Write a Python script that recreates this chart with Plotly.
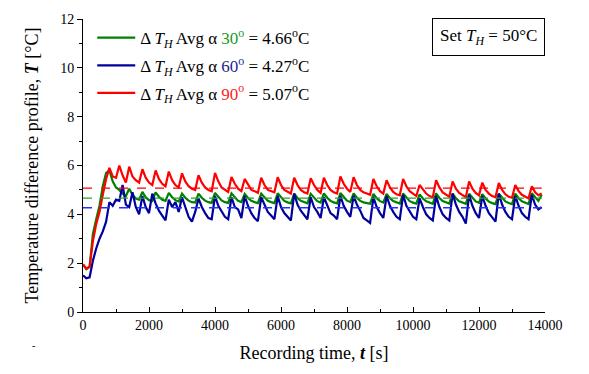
import numpy as np
import plotly.graph_objects as go

# ---- data (100 s step) ----
time_step = 100
red_90 = [
    1.95, 1.78, 1.85, 2.90, 3.60, 4.10, 4.80, 5.45, 5.90, 5.55,
    5.50, 6.00, 5.60, 5.30, 5.95, 5.55, 5.40, 5.30, 5.85, 5.50,
    5.30, 5.20, 5.80, 5.45, 5.25, 5.15, 5.75, 5.40, 5.20, 5.10,
    5.68, 5.35, 5.15, 5.05, 5.00, 5.60, 5.30, 5.10, 5.00, 4.95,
    5.70, 5.35, 5.10, 5.00, 4.92, 5.53, 5.25, 5.05, 4.95, 5.45,
    5.20, 5.00, 4.95, 4.88, 5.50, 5.20, 5.00, 4.95, 4.90, 5.52,
    5.20, 5.00, 4.92, 4.85, 5.50, 5.20, 5.00, 4.90, 4.85, 5.48,
    5.20, 5.00, 4.88, 5.50, 5.20, 5.00, 4.90, 4.85, 5.55, 5.25,
    5.05, 4.92, 5.52, 5.20, 5.00, 4.90, 4.85, 4.80, 5.45, 5.15,
    4.95, 4.85, 5.40, 5.10, 4.92, 4.82, 4.78, 5.45, 5.15, 4.95,
    4.85, 4.75, 5.20, 5.00, 4.85, 4.75, 4.70, 5.40, 5.10, 4.90,
    4.80, 4.72, 5.35, 5.05, 4.88, 4.78, 4.70, 5.35, 5.05, 4.88,
    4.78, 5.30, 5.00, 4.85, 4.75, 4.70, 5.28, 5.00, 4.82, 4.72,
    4.68, 5.20, 4.95, 4.80, 4.72, 4.65, 5.15, 4.90, 4.78, 4.85,
]
green_30 = [
    1.95, 1.75, 1.85, 3.20, 3.80, 4.35, 5.15, 5.70, 5.80, 5.35,
    5.10, 5.00, 4.85, 4.75, 5.05, 4.80, 4.65, 4.60, 4.92, 4.70,
    4.58, 4.55, 4.90, 4.72, 4.60, 4.55, 4.88, 4.70, 4.58, 4.52,
    4.85, 4.68, 4.56, 4.50, 4.48, 4.85, 4.68, 4.56, 4.50, 4.47,
    4.88, 4.70, 4.57, 4.50, 4.47, 4.86, 4.68, 4.55, 4.50, 4.84,
    4.67, 4.55, 4.50, 4.46, 4.85, 4.68, 4.55, 4.50, 4.46, 4.86,
    4.68, 4.55, 4.49, 4.45, 4.85, 4.67, 4.55, 4.49, 4.45, 4.84,
    4.67, 4.54, 4.48, 4.86, 4.68, 4.55, 4.49, 4.45, 4.87, 4.69,
    4.56, 4.50, 4.86, 4.68, 4.55, 4.49, 4.45, 4.43, 4.84, 4.66,
    4.54, 4.48, 4.84, 4.66, 4.54, 4.48, 4.44, 4.85, 4.67, 4.54,
    4.48, 4.44, 4.82, 4.65, 4.53, 4.47, 4.43, 4.86, 4.67, 4.54,
    4.48, 4.44, 4.85, 4.66, 4.53, 4.47, 4.43, 4.84, 4.66, 4.53,
    4.47, 4.83, 4.65, 4.52, 4.46, 4.42, 4.84, 4.66, 4.53, 4.46,
    4.42, 4.85, 4.66, 4.53, 4.46, 4.42, 4.86, 4.68, 4.55, 4.80,
]
blue_60 = [
    1.50, 1.38, 1.42, 2.10, 2.60, 3.00, 3.30, 3.70, 4.50, 4.35,
    4.60, 4.55, 5.20, 4.40, 4.30, 4.90, 4.30, 4.00, 4.75, 4.30,
    4.05, 4.85, 4.45, 4.15, 3.95, 3.75, 4.60, 4.30, 4.50, 4.10,
    4.70, 4.25, 3.90, 3.70, 4.10, 4.65, 4.30, 4.05, 3.85, 3.80,
    4.75, 4.35, 4.15, 3.90, 3.80, 4.70, 4.30, 4.20, 3.85, 4.75,
    4.35, 4.05, 3.85, 3.72, 4.70, 4.40, 4.10, 3.95, 3.80, 4.75,
    4.30, 4.05, 3.90, 3.75, 4.85, 4.40, 4.15, 3.95, 3.80, 4.70,
    4.30, 4.10, 3.85, 4.70, 4.35, 4.05, 3.95, 3.80, 4.75, 4.35,
    4.10, 3.90, 4.75, 4.40, 4.15, 3.85, 3.75, 3.65, 4.70, 4.30,
    4.05, 3.85, 4.75, 4.35, 4.10, 3.90, 3.80, 4.80, 4.35, 4.10,
    3.90, 3.80, 4.65, 4.30, 4.00, 3.85, 3.75, 4.75, 4.30, 4.00,
    3.85, 3.75, 4.85, 4.40, 4.10, 3.90, 3.62, 4.80, 4.35, 4.05,
    3.85, 4.75, 4.35, 4.05, 3.85, 3.70, 4.85, 4.40, 4.10, 3.90,
    3.80, 4.75, 4.35, 4.05, 3.90, 3.80, 4.80, 4.40, 4.20, 4.30,
]
angles = ["30", "60", "90"]
avg_values = [4.66, 4.27, 5.07]
line_colors = ["#008000", "#00009C", "#FF0000"]
dash_colors = ["#2E9E2E", "#2233FF", "#FF0000"]
angle_colors = ["#1A9A1A", "#1F1F8F", "#FF2020"]
series = [green_30, blue_60, red_90]

t = np.arange(len(red_90)) * time_step
t_end = t[-1]

FONT = "Liberation Serif"
fig = go.Figure()

for i, (s, a, avg, lc, ac) in enumerate(zip(series, angles, avg_values, line_colors, angle_colors)):
    name = (f"Δ <i>T<sub>H</sub></i> Avg α <span style='color:{ac}'>{a}<sup>o</sup></span>"
            f" = {avg:.2f}<sup>o</sup>C")
    fig.add_trace(go.Scatter(x=t, y=s, mode="lines", name=name, legendgroup=f"g{i}",
                             line=dict(color=lc, width=2.2)))

for avg, dc in zip(avg_values, dash_colors):
    fig.add_trace(go.Scatter(x=[0, t_end], y=[avg, avg], mode="lines", showlegend=False,
                             line=dict(color=dc, width=1.3, dash="dash")))

fig.update_layout(
    width=589, height=374,
    margin=dict(l=83, r=44, t=15, b=62),
    paper_bgcolor="white", plot_bgcolor="white",
    font=dict(family=FONT, size=14, color="black"),
    showlegend=True,
    legend=dict(x=0.02, y=0.996, xanchor="left", yanchor="top",
                bgcolor="rgba(0,0,0,0)", font=dict(family=FONT, size=17),
                tracegroupgap=2.5, itemwidth=38),
    xaxis=dict(range=[0, 14000], showgrid=False, zeroline=False,
               showline=True, linecolor="black", linewidth=1,
               ticks="inside", ticklen=5, tickcolor="black", dtick=2000, tickformat="d",
               minor=dict(dtick=1000, ticks="inside", ticklen=3, tickcolor="black"),
               tickfont=dict(family=FONT, size=14),
               title=dict(text="Recording time, <b><i>t</i></b> [s]", font=dict(family=FONT, size=18), standoff=14)),
    yaxis=dict(range=[0, 12], showgrid=False, zeroline=False,
               showline=True, linecolor="black", linewidth=1,
               ticks="outside", ticklen=5, tickcolor="black", dtick=2,
               minor=dict(dtick=1, ticks="outside", ticklen=3, tickcolor="black"),
               tickfont=dict(family=FONT, size=14),
               title=dict(text="Temperature difference profile, <b><i>T</i></b> [°C]",
                          font=dict(family=FONT, size=18), standoff=16)),
    annotations=[
        dict(xref="paper", yref="paper", x=0.878, y=0.94, xanchor="center", yanchor="middle",
             text="Set <i>T<sub>H</sub></i> = 50°C", showarrow=False,
             font=dict(family=FONT, size=17), bordercolor="black", borderwidth=1,
             borderpad=7, bgcolor="white"),
        dict(xref="paper", yref="paper", x=-0.115, y=-0.14, text="-", showarrow=False,
             font=dict(family=FONT, size=10)),
    ],
)

fig.write_html("out.html")
